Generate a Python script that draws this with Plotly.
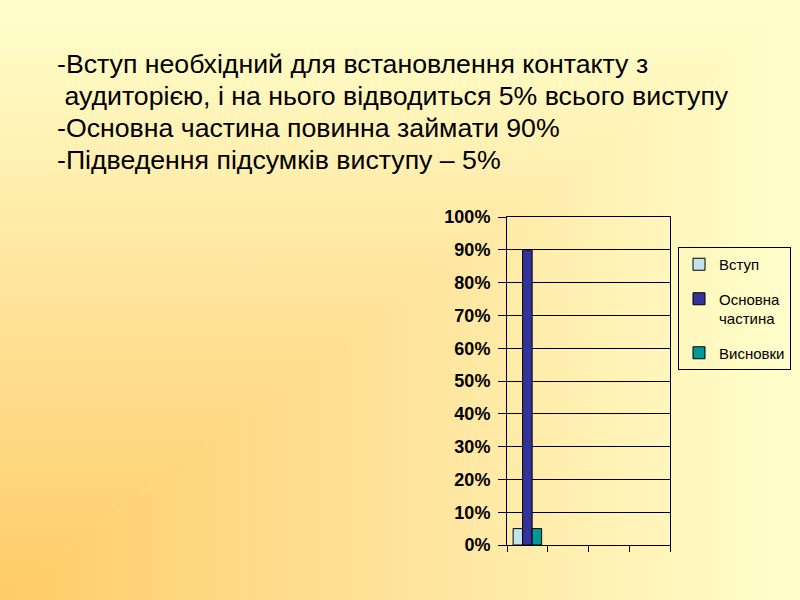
import base64
import plotly.graph_objects as go

# ---- data ----
categories = ["1", "2", "3", "4"]
series_names = ["Вступ", "Основна<br>частина", "Висновки"]
vstup = [5, None, None, None]
osnovna = [90, None, None, None]
vysnovky = [5, None, None, None]
series_values = [vstup, osnovna, vysnovky]
series_colors = ["#C2E3EB", "#333399", "#009999"]
y_ticks = [0, 10, 20, 30, 40, 50, 60, 70, 80, 90, 100]
y_tick_labels = ["0%", "10%", "20%", "30%", "40%", "50%", "60%", "70%", "80%", "90%", "100%"]

text_lines = [
    "-Вступ необхідний для встановлення контакту з",
    " аудиторією, і на нього відводиться 5% всього виступу",
    "-Основна частина повинна займати 90%",
    "-Підведення підсумків виступу – 5%",
]

# ---- layout geometry (pixels) ----
W, H = 800, 600
ML, MR, MT, MB = 507, 130, 217, 55
PW, PH = W - ML - MR, H - MT - MB


def px_x(px):
    return (px - ML) / PW


def px_y(py):
    return 1 - (py - MT) / PH


# background: "from corner" gradient (bottom-left orange -> light yellow)
svg = f'''<svg xmlns="http://www.w3.org/2000/svg" width="{W}" height="{H}" viewBox="0 0 {W} {H}">
<defs>
<linearGradient id="gv" gradientUnits="userSpaceOnUse" x1="0" y1="{H}" x2="0" y2="0">
<stop offset="0" stop-color="#FFCC66"/><stop offset="0.5" stop-color="#FFE39A"/><stop offset="1" stop-color="#FFFFCC"/>
</linearGradient>
<linearGradient id="gh" gradientUnits="userSpaceOnUse" x1="0" y1="0" x2="{W}" y2="0">
<stop offset="0" stop-color="#FFCC66"/><stop offset="0.5" stop-color="#FFE39A"/><stop offset="1" stop-color="#FFFFCC"/>
</linearGradient>
</defs>
<polygon points="0,0 {W},0 0,{H}" fill="url(#gv)"/>
<polygon points="0,{H} {W},0 {W},{H}" fill="url(#gh)"/>
<polygon points="{W},0 {W-1},0 0,{H-1} 0,{H}" fill="url(#gv)"/>
</svg>'''
svg_uri = "data:image/svg+xml;base64," + base64.b64encode(svg.encode()).decode()

fig = go.Figure()
for i, (name, vals, col) in enumerate(zip(series_names, series_values, series_colors)):
    fig.add_trace(go.Bar(
        x=categories, y=vals, name=name,
        marker=dict(color=col, line=dict(color="black", width=1)),
        legendgroup=str(i),
    ))

font_family = "Arial, Liberation Sans, sans-serif"

annotations = []
line_centers = [64, 96, 128, 160]
for txt, yc in zip(text_lines, line_centers):
    annotations.append(dict(
        text=txt.replace(" ", "&nbsp;", 1) if txt.startswith(" ") else txt,
        xref="paper", yref="paper", x=px_x(55), y=px_y(yc),
        xanchor="left", yanchor="middle", showarrow=False,
        font=dict(family=font_family, size=26.7, color="black"),
    ))

fig.update_layout(
    width=W, height=H,
    margin=dict(l=ML, r=MR, t=MT, b=MB, autoexpand=False),
    paper_bgcolor="#FFFFCC",
    plot_bgcolor="rgba(0,0,0,0)",
    barmode="group", bargap=0.30, bargroupgap=0,
    font=dict(family=font_family, color="black"),
    images=[dict(
        source=svg_uri, xref="paper", yref="paper",
        x=px_x(0), y=px_y(0), sizex=W / PW, sizey=H / PH,
        xanchor="left", yanchor="top", sizing="stretch", layer="below",
    )],
    annotations=annotations,
    legend=dict(
        x=px_x(678), y=px_y(247), xanchor="left", yanchor="top",
        bgcolor="rgba(0,0,0,0)", bordercolor="black", borderwidth=1,
        font=dict(family=font_family, size=15, color="black"),
        traceorder="grouped", tracegroupgap=12, valign="top",
        itemwidth=30,
    ),
    showlegend=True,
)

fig.update_xaxes(
    type="category", categoryorder="array", categoryarray=categories,
    showticklabels=False, tickson="boundaries", ticks="outside", ticklen=6,
    tickcolor="black", showline=True, linecolor="black", linewidth=1,
    mirror=True, showgrid=False, zeroline=False,
)
fig.update_yaxes(
    range=[0, 100], tickmode="array", tickvals=y_ticks, ticktext=y_tick_labels,
    ticks="outside", ticklen=8, tickcolor="black",
    tickfont=dict(family=font_family, size=18, color="black", weight="bold"),
    showline=True, linecolor="black", linewidth=1, mirror=True,
    showgrid=True, gridcolor="black", gridwidth=1, zeroline=False,
    ticklabelstandoff=4,
)

fig.write_html(
    "out.html",
    config={"displayModeBar": False},
    post_script="document.body.style.margin='0';document.body.style.padding='0';"
                "document.documentElement.style.overflow='hidden';",
)
